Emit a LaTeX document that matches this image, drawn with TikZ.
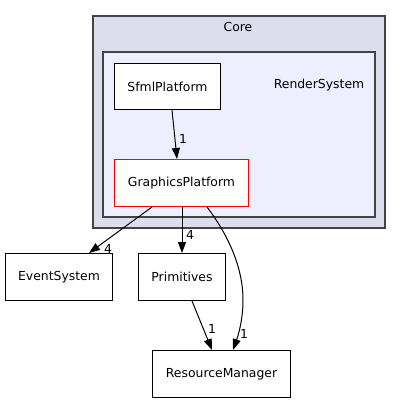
\documentclass[tikz,border=0pt]{standalone}
\usepackage{fontspec}
\setmainfont{DejaVu Sans}
\usetikzlibrary{arrows.meta}
\definecolor{corefill}{HTML}{DDDDEE}
\definecolor{renderfill}{HTML}{EEEEFF}
\definecolor{clusterline}{HTML}{444444}
\begin{document}
\begin{tikzpicture}[x=1pt,y=-1pt,
  font=\fontsize{12.4}{15}\selectfont,
  box/.style={draw=black,fill=white,line width=1pt,inner sep=0pt},
  cluster/.style={draw=clusterline,line width=2pt,inner sep=0pt},
  arr/.style={draw=black,line width=1pt,-{Triangle[length=11pt,width=8pt]}},
  lbl/.style={inner sep=0pt}]
\useasboundingbox (0,0) rectangle (402,404);
\node[cluster,fill=corefill,minimum width=292pt,minimum height=212pt] (core) at (239,122) {};
\node (corelbl) at (238,27) {Core};
\node[cluster,fill=renderfill,minimum width=272pt,minimum height=165pt] (render) at (239,134.5) {};
\node (renderlbl) at (319,85) {RenderSystem};
\node[box,minimum width=106pt,minimum height=46pt] (sfml) at (167.5,86.5) {SfmlPlatform};
\node[box,draw=red,minimum width=134pt,minimum height=47pt] (graphics) at (181.5,183) {GraphicsPlatform};
\node[box,minimum width=107pt,minimum height=47pt] (events) at (59,277) {EventSystem};
\node[box,minimum width=87pt,minimum height=47pt] (prims) at (182,277) {Primitives};
\node[box,minimum width=138pt,minimum height=47pt] (res) at (221.5,374) {ResourceManager};
\draw[arr] ([xshift=4.5pt]sfml.south) -- ([xshift=-4.5pt]graphics.north);
\draw[arr] ([xshift=-29.5pt]graphics.south) -- ([xshift=30pt]events.north);
\draw[arr] ([xshift=0.5pt]graphics.south) -- ([xshift=0pt]prims.north);
\draw[arr] ([xshift=25.5pt]graphics.south) .. controls (226,232) and (243,265) .. (243,300) .. controls (243,320) and (238,336) .. ([xshift=11.5pt]res.north);
\draw[arr] ([xshift=10pt]prims.south) -- ([xshift=-9.5pt]res.north);
\node[lbl] (l1) at (183,139) {1};
\node[lbl] (l2) at (108,249) {4};
\node[lbl] (l3) at (190,235) {4};
\node[lbl] (l4) at (244,334) {1};
\node[lbl] (l5) at (212,329) {1};
\end{tikzpicture}
\end{document}
